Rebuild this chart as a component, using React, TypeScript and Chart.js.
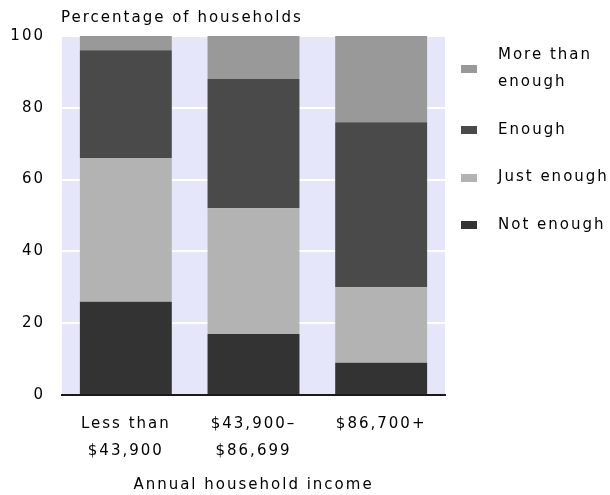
import React, { useEffect, useRef } from "react";
import { Chart, registerables } from "chart.js";

Chart.register(...registerables);

const categories = [["Less than", "$43,900"], ["$43,900–", "$86,699"], ["$86,700+"]];
const seriesLabels = ["Not enough", "Just enough", "Enough", "More than enough"];
const notEnough = [26, 17, 9];
const justEnough = [40, 35, 21];
const enough = [30, 36, 46];
const moreThanEnough = [4, 12, 24];
const seriesColors = ["#333333", "#b3b3b3", "#4a4a4a", "#999999"];
const yMin = 0;
const yMax = 100;
const yStep = 20;
const yAxisTitle = "Percentage of households";
const xAxisTitle = "Annual household income";

const FAMILY = '"DejaVu Sans", Verdana, sans-serif';
const SIZE = 15;
const SPACING = "2px";

function wrap(ctx: CanvasRenderingContext2D, text: string, maxW: number): string[] {
  const words = text.split(" ");
  const lines: string[] = [];
  let cur = "";
  for (const w of words) {
    const t = cur ? cur + " " + w : w;
    if (cur && ctx.measureText(t).width > maxW) {
      lines.push(cur);
      cur = w;
    } else cur = t;
  }
  if (cur) lines.push(cur);
  return lines;
}

const spacingPlugin = {
  id: "spacing",
  beforeUpdate(chart: any) {
    chart.ctx.letterSpacing = SPACING;
  },
  beforeLayout(chart: any) {
    chart.ctx.letterSpacing = SPACING;
  },
  beforeDraw(chart: any) {
    const ctx = chart.ctx;
    ctx.letterSpacing = SPACING;
    const a = chart.chartArea;
    ctx.save();
    ctx.fillStyle = "#e6e6fa";
    ctx.fillRect(a.left, a.top, a.right - a.left, a.bottom - a.top);
    ctx.restore();
  },
  afterDraw(chart: any) {
    const ctx = chart.ctx;
    const a = chart.chartArea;
    ctx.save();
    ctx.letterSpacing = SPACING;
    ctx.font = `${SIZE}px ${FAMILY}`;
    ctx.textBaseline = "middle";
    ctx.textAlign = "left";
    ctx.fillStyle = "#000";
    ctx.fillText(yAxisTitle, a.left - 1, 18);
    let y = 55;
    const ds = chart.data.datasets.slice().reverse();
    for (const d of ds) {
      const lines = wrap(ctx, d.label, 118);
      const mid = y + ((lines.length - 1) * 27.5) / 2;
      ctx.fillStyle = d.backgroundColor;
      ctx.fillRect(a.right + 16, Math.round(mid - 4), 16, 8);
      ctx.fillStyle = "#000";
      lines.forEach((l: string, i: number) => ctx.fillText(l, a.right + 53, y + i * 27.5));
      y += (lines.length - 1) * 27.5 + 47.5;
    }
    ctx.restore();
  },
};

export default function App() {
  const ref = useRef<HTMLCanvasElement>(null);
  useEffect(() => {
    document.body.style.margin = "0";
    const seriesData = [notEnough, justEnough, enough, moreThanEnough];
    const chart = new Chart(ref.current as HTMLCanvasElement, {
      type: "bar",
      data: {
        labels: categories as any,
        datasets: seriesLabels.map((label, i) => ({
          label,
          data: seriesData[i],
          backgroundColor: seriesColors[i],
          borderWidth: 0,
          barPercentage: 0.72,
          categoryPercentage: 1,
        })),
      },
      options: {
        animation: false,
        responsive: false,
        devicePixelRatio: 1,
        layout: { padding: { top: 36, right: 165, left: 0, bottom: 0 } },
        plugins: {
          legend: { display: false },
          title: { display: false },
          tooltip: { enabled: false },
        },
        scales: {
          x: {
            stacked: true,
            grid: { display: false, drawTicks: false },
            border: { display: true, color: "#1a1a1a", width: 2 },
            ticks: {
              color: "#000",
              padding: 15,
              maxRotation: 0,
              font: { family: FAMILY, size: SIZE, lineHeight: 1.833 },
            },
            title: {
              display: true,
              text: xAxisTitle,
              color: "#000",
              padding: { top: 0, bottom: 1 },
              font: { family: FAMILY, size: SIZE },
            },
            afterFit: (s: any) => {
              s.height = 100;
            },
          },
          y: {
            stacked: true,
            min: yMin,
            max: yMax,
            grid: { color: "#ffffff", lineWidth: 2, drawTicks: false },
            border: { display: false },
            ticks: {
              stepSize: yStep,
              color: "#000",
              padding: 17,
              font: { family: FAMILY, size: SIZE },
            },
            afterFit: (s: any) => {
              s.width = 62;
            },
          },
        },
      },
      plugins: [spacingPlugin],
    });
    return () => chart.destroy();
  }, []);
  return (
    <div style={{ width: 610, height: 495 }}>
      <canvas ref={ref} width={610} height={495} style={{ display: "block", width: 610, height: 495 }} />
    </div>
  );
}
